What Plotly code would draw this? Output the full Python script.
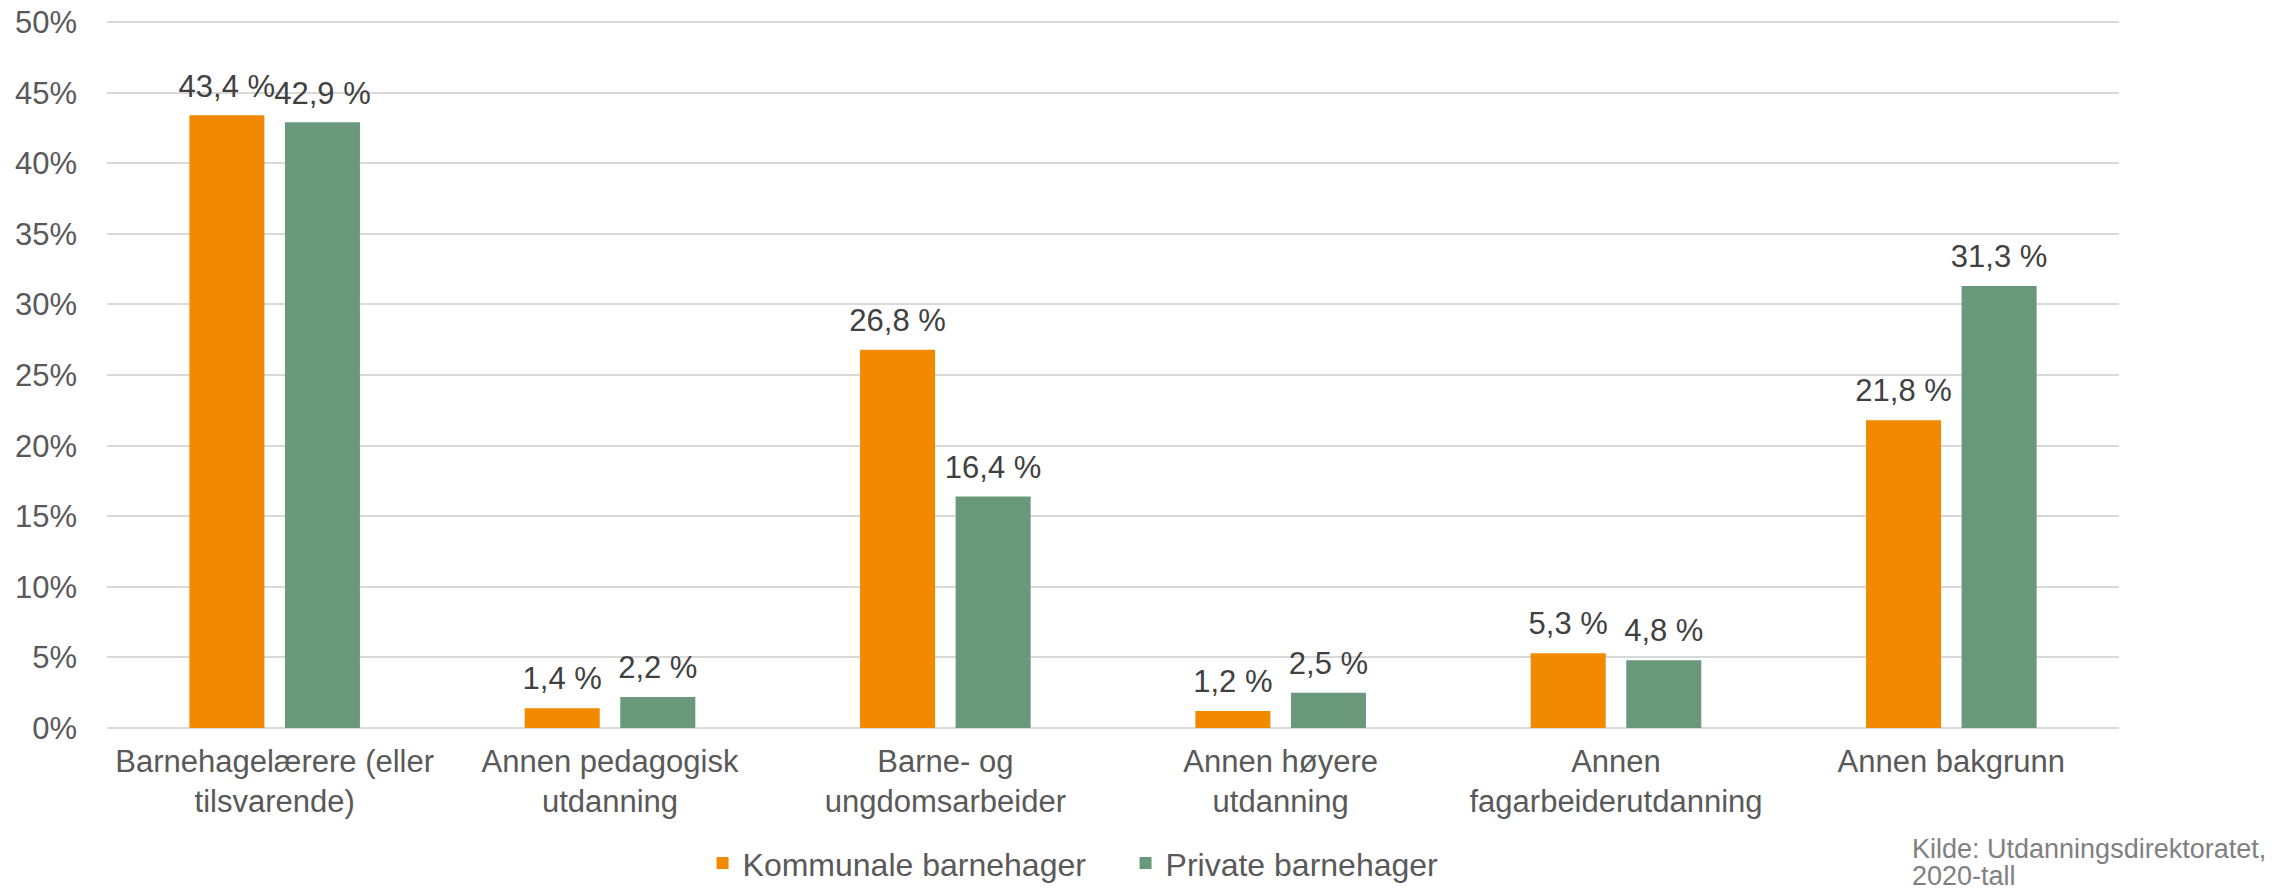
import plotly.graph_objects as go

categories = [
    "Barnehagelærere (eller<br>tilsvarende)",
    "Annen pedagogisk<br>utdanning",
    "Barne- og<br>ungdomsarbeider",
    "Annen høyere<br>utdanning",
    "Annen<br>fagarbeiderutdanning",
    "Annen bakgrunn",
]
kommunale = [43.4, 1.4, 26.8, 1.2, 5.3, 21.8]
private = [42.9, 2.2, 16.4, 2.5, 4.8, 31.3]
series_names = ["Kommunale barnehager", "Private barnehager"]
y_ticks = [0, 5, 10, 15, 20, 25, 30, 35, 40, 45, 50]
y_tick_labels = [f"{v}%" for v in y_ticks]
source_lines = ["Kilde: Utdanningsdirektoratet,", "2020-tall"]

FONT = "Liberation Sans, Arial, sans-serif"
COLORS = ["#F18A00", "#6A987A"]


def fmt(v):
    return f"{v:.1f}".replace(".", ",") + " %"


fig = go.Figure()
for name, vals, col in zip(series_names, [kommunale, private], COLORS):
    fig.add_trace(go.Bar(
        name=name,
        x=categories,
        y=vals,
        marker=dict(color=col, line=dict(width=0)),
        hoverinfo="skip",
    ))
# data labels, grouped so they sit above their bars
for name, vals in zip(series_names, [kommunale, private]):
    fig.add_trace(go.Scatter(
        name=name + " labels",
        x=categories,
        y=vals,
        mode="markers+text",
        marker=dict(size=16, opacity=0),
        text=[fmt(v) for v in vals],
        textposition="top center",
        textfont=dict(family=FONT, size=31, color="#404040"),
        cliponaxis=False,
        showlegend=False,
        hoverinfo="skip",
    ))

fig.update_layout(
    width=2277,
    height=892,
    margin=dict(l=107, r=158, t=20, b=164, autoexpand=False),
    paper_bgcolor="white",
    plot_bgcolor="white",
    barmode="group",
    bargap=0.43,
    bargroupgap=0.215,
    scattermode="group",
    scattergap=0.43,
    font=dict(family=FONT, size=31, color="#595959"),
    showlegend=True,
    legend=dict(
        orientation="h",
        x=0.296, xanchor="left",
        y=-0.191, yanchor="middle",
        entrywidth=378,
        font=dict(family=FONT, size=32, color="#595959"),
        bgcolor="rgba(0,0,0,0)",
        itemclick=False, itemdoubleclick=False,
    ),
    xaxis=dict(
        automargin=False,
        showgrid=False,
        showline=False,
        ticks="",
        ticklabelstandoff=12,
        tickfont=dict(family=FONT, size=31, color="#595959"),
    ),
    yaxis=dict(
        automargin=False,
        range=[0, 50.15],
        tickmode="array",
        tickvals=y_ticks,
        ticktext=y_tick_labels,
        showgrid=True,
        gridcolor="#D9D9D9",
        gridwidth=2,
        zeroline=True,
        zerolinecolor="#D9D9D9",
        zerolinewidth=2,
        showline=False,
        ticks="",
        ticklabelstandoff=29,
        tickfont=dict(family=FONT, size=31, color="#595959"),
    ),
    annotations=[
        dict(
            text=line,
            xref="paper", yref="paper",
            x=0.8959, y=yy,
            xanchor="left", yanchor="middle",
            align="left",
            showarrow=False,
            font=dict(family=FONT, size=27, color="#808080"),
        )
        for line, yy in zip(source_lines, [-0.1705, -0.2085])
    ],
)

fig.write_html(
    "out.html",
    config={"displayModeBar": False},
    post_script="document.body.style.margin='0';document.body.style.overflow='hidden';",
)
